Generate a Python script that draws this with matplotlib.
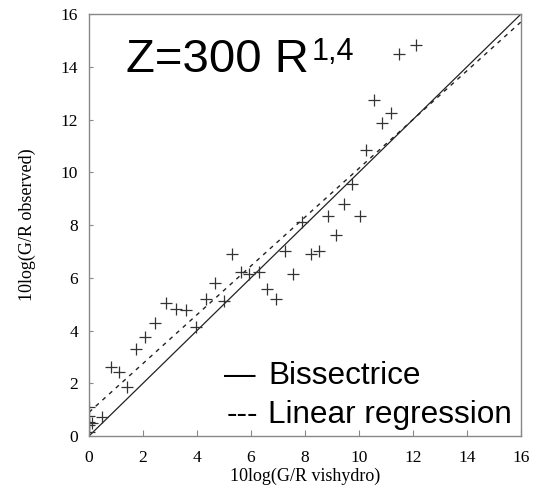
import matplotlib
matplotlib.use("Agg")
import matplotlib.pyplot as plt
import numpy as np

# Observed vs vishydro values
x_vis = [0.0, 0.0, 0.0, 0.0, 0.0, 0.1, 0.48, 0.80, 1.11, 1.42, 1.73, 2.07, 2.44,
         2.84, 3.21, 3.58, 3.98, 4.32, 4.67, 5.00, 5.31, 5.62, 5.93, 6.30, 6.60,
         6.91, 7.26, 7.57, 7.90, 8.21, 8.52, 8.86, 9.16, 9.44, 9.73, 10.02,
         10.27, 10.56, 10.84, 11.17, 11.48, 12.10]
y_obs = [1.10, 0.76, 0.54, 0.42, 0.16, 0.50, 0.72, 2.63, 2.44, 1.87, 3.28, 3.74, 4.27,
         5.05, 4.83, 4.77, 4.12, 5.21, 5.82, 5.13, 6.89, 6.22, 6.16, 6.22, 5.59,
         5.18, 7.02, 6.16, 8.12, 6.89, 7.02, 8.33, 7.64, 8.79, 9.57, 8.33,
         10.83, 12.73, 11.87, 12.25, 14.47, 14.81]

reg_intercept = 0.9
reg_slope = 0.925

ticks = [0, 2, 4, 6, 8, 10, 12, 14, 16]

fig = plt.figure(figsize=(5.33, 4.93), dpi=100)
ax = fig.add_axes([0.167, 0.1156, 0.8105, 0.856])

line_x = np.array([0, 16])
ax.plot(line_x, line_x, color="#222222", lw=0.9)
ax.plot(line_x, reg_intercept + reg_slope * line_x, color="#222222", lw=1.0,
        ls=(0, (3, 3.5)))
ax.plot(x_vis, y_obs, ls="none", marker="+", ms=8, mew=0.9, color="#333333")

ax.set_xlim(0, 16)
ax.set_ylim(0, 16)
ax.set_xticks(ticks)
ax.set_yticks(ticks)
serif = "Liberation Serif"
ax.set_xticklabels([str(t) for t in ticks], family=serif, fontsize=12.5)
ax.set_yticklabels([str(t) for t in ticks], family=serif, fontsize=12.5)
ax.tick_params(axis="x", direction="in", length=4, color="#888888", width=0.8, pad=10)
ax.tick_params(axis="y", direction="in", length=3, color="#888888", width=0.8, pad=8)
for s in ax.spines.values():
    s.set_color("#888888")
    s.set_linewidth(1.0)

ax.set_xlabel("10log(G/R vishydro)", family=serif, fontsize=13)
ax.set_ylabel("10log(G/R observed)", family=serif, fontsize=13)
ax.xaxis.set_label_coords(0.5, -0.076)
ax.yaxis.set_label_coords(-0.122, 0.5)

sans = "Liberation Sans"
fig.text(126 / 533, 1 - 72 / 493, "Z=300 R", family=sans,
         fontsize=34, va="baseline", ha="left")
fig.text(312 / 533, 1 - 60 / 493, "1,4", family=sans,
         fontsize=22, va="baseline", ha="left")
fig.text(224 / 533, 1 - 384 / 493, "—", family=sans, fontsize=22.7,
         va="baseline", ha="left")
fig.text(268 / 533, 1 - 384 / 493, "Bissectrice", family=sans, fontsize=22.7,
         va="baseline", ha="left")
fig.text(227 / 533, 1 - 423 / 493, "---", family=sans, fontsize=22.7,
         va="baseline", ha="left")
fig.text(268 / 533, 1 - 423 / 493, "Linear regression", family=sans, fontsize=22.7,
         va="baseline", ha="left")

fig.savefig("out.png", dpi=100)
